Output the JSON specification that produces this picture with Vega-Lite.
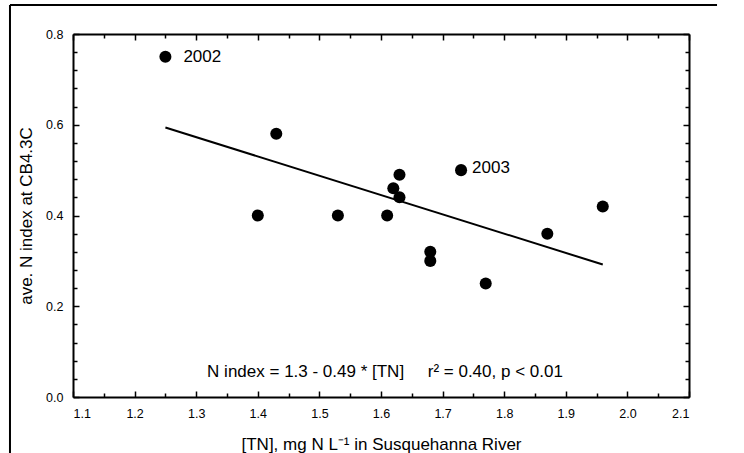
{
  "$schema": "https://vega.github.io/schema/vega-lite/v6.json",
  "width": 616,
  "height": 363,
  "autosize": {"type": "none"},
  "padding": {"left": 73, "top": 34, "right": 55, "bottom": 56},
  "background": "white",
  "config": {
    "font": "Liberation Sans",
    "view": {"stroke": null},
    "axis": {
      "grid": false,
      "domainColor": "black",
      "tickColor": "black",
      "labelColor": "black",
      "titleColor": "black",
      "labelFont": "Liberation Sans",
      "titleFont": "Liberation Sans",
      "labelFontSize": 12.5,
      "titleFontSize": 17,
      "titleFontWeight": "normal",
      "domainWidth": 2,
      "tickWidth": 1.5
    }
  },
  "datasets": {
    "points": [
      {"tn": 1.25, "nindex": 0.75, "year": "2002"},
      {"tn": 1.43, "nindex": 0.58, "year": ""},
      {"tn": 1.40, "nindex": 0.40, "year": ""},
      {"tn": 1.53, "nindex": 0.40, "year": ""},
      {"tn": 1.61, "nindex": 0.40, "year": ""},
      {"tn": 1.62, "nindex": 0.46, "year": ""},
      {"tn": 1.63, "nindex": 0.49, "year": ""},
      {"tn": 1.63, "nindex": 0.44, "year": ""},
      {"tn": 1.73, "nindex": 0.50, "year": "2003"},
      {"tn": 1.68, "nindex": 0.32, "year": ""},
      {"tn": 1.68, "nindex": 0.30, "year": ""},
      {"tn": 1.77, "nindex": 0.25, "year": ""},
      {"tn": 1.87, "nindex": 0.36, "year": ""},
      {"tn": 1.96, "nindex": 0.42, "year": ""}
    ],
    "fit": [
      {"tn": 1.25, "nindex": 0.594},
      {"tn": 1.96, "nindex": 0.292}
    ],
    "equation": [
      {"tn": 1.6065, "nindex": 0.044, "label": "N index = 1.3 - 0.49 * [TN]\u00a0\u00a0\u00a0\u00a0\u00a0r\u00b2 = 0.40, p < 0.01"}
    ],
    "frame": [
      {"x1": 0.9977, "y1": -0.13, "x2": 0.9977, "y2": 0.864},
      {"x1": 0.9977, "y1": 0.864, "x2": 2.1455, "y2": 0.864}
    ]
  },
  "layer": [
    {
      "data": {"name": "points"},
      "mark": {"type": "circle", "size": 145, "color": "black", "opacity": 1},
      "encoding": {
        "x": {
          "field": "tn", "type": "quantitative",
          "scale": {"domain": [1.1, 2.1], "nice": false, "zero": false},
          "axis": {
            "orient": "bottom",
            "values": [1.1, 1.2, 1.3, 1.4, 1.5, 1.6, 1.7, 1.8, 1.9, 2.0, 2.1],
            "format": ".1f",
            "tickSize": -6,
            "labelPadding": 16,
            "title": "[TN], mg N L\u207b\u00b9  in Susquehanna River",
            "titlePadding": 17
          }
        },
        "y": {
          "field": "nindex", "type": "quantitative",
          "scale": {"domain": [0, 0.8], "nice": false, "zero": false},
          "axis": {
            "orient": "left",
            "values": [0, 0.2, 0.4, 0.6, 0.8],
            "format": ".1f",
            "tickSize": -6,
            "labelPadding": 16,
            "title": "ave. N index at CB4.3C",
            "titlePadding": 10
          }
        }
      }
    },
    {
      "data": {"name": "fit"},
      "mark": {"type": "line", "color": "black", "strokeWidth": 2},
      "encoding": {
        "x": {
          "field": "tn", "type": "quantitative",
          "scale": {"domain": [1.1, 2.1], "nice": false, "zero": false},
          "axis": {
            "orient": "bottom",
            "values": [1.15, 1.25, 1.35, 1.45, 1.55, 1.65, 1.75, 1.85, 1.95, 2.05],
            "labels": false, "domain": false, "tickSize": -4, "title": null
          }
        },
        "y": {
          "field": "nindex", "type": "quantitative",
          "scale": {"domain": [0, 0.8], "nice": false, "zero": false},
          "axis": {
            "orient": "left",
            "values": [0.04, 0.08, 0.12, 0.16, 0.24, 0.28, 0.32, 0.36, 0.44, 0.48, 0.52, 0.56, 0.64, 0.68, 0.72, 0.76],
            "labels": false, "domain": false, "tickSize": -4, "title": null
          }
        }
      }
    },
    {
      "data": {"name": "points"},
      "transform": [{"filter": "datum.year == '2002'"}],
      "mark": {"type": "text", "align": "left", "baseline": "middle", "dx": 18, "fontSize": 17, "color": "black"},
      "encoding": {
        "x": {
          "field": "tn", "type": "quantitative",
          "scale": {"domain": [1.1, 2.1], "nice": false, "zero": false},
          "axis": {
            "orient": "top",
            "values": [1.1, 1.2, 1.3, 1.4, 1.5, 1.6, 1.7, 1.8, 1.9, 2.0, 2.1],
            "labels": false, "tickSize": -6, "title": null
          }
        },
        "y": {
          "field": "nindex", "type": "quantitative",
          "scale": {"domain": [0, 0.8], "nice": false, "zero": false},
          "axis": {
            "orient": "right",
            "values": [0, 0.2, 0.4, 0.6, 0.8],
            "labels": false, "tickSize": -6, "title": null
          }
        },
        "text": {"field": "year"}
      }
    },
    {
      "data": {"name": "points"},
      "transform": [{"filter": "datum.year == '2003'"}],
      "mark": {"type": "text", "align": "left", "baseline": "middle", "dx": 11, "dy": -2, "fontSize": 17, "color": "black"},
      "encoding": {
        "x": {
          "field": "tn", "type": "quantitative",
          "scale": {"domain": [1.1, 2.1], "nice": false, "zero": false},
          "axis": {
            "orient": "top",
            "values": [1.15, 1.25, 1.35, 1.45, 1.55, 1.65, 1.75, 1.85, 1.95, 2.05],
            "labels": false, "domain": false, "tickSize": -4, "title": null
          }
        },
        "y": {
          "field": "nindex", "type": "quantitative",
          "scale": {"domain": [0, 0.8], "nice": false, "zero": false},
          "axis": {
            "orient": "right",
            "values": [0.04, 0.08, 0.12, 0.16, 0.24, 0.28, 0.32, 0.36, 0.44, 0.48, 0.52, 0.56, 0.64, 0.68, 0.72, 0.76],
            "labels": false, "domain": false, "tickSize": -4, "title": null
          }
        },
        "text": {"field": "year"}
      }
    },
    {
      "data": {"name": "equation"},
      "mark": {"type": "text", "align": "center", "baseline": "alphabetic", "fontSize": 17, "color": "black"},
      "encoding": {
        "x": {"field": "tn", "type": "quantitative", "scale": {"domain": [1.1, 2.1], "nice": false, "zero": false}, "axis": null},
        "y": {"field": "nindex", "type": "quantitative", "scale": {"domain": [0, 0.8], "nice": false, "zero": false}, "axis": null},
        "text": {"field": "label"}
      }
    },
    {
      "data": {"name": "frame"},
      "mark": {"type": "rule", "color": "black", "strokeWidth": 2},
      "encoding": {
        "x": {"field": "x1", "type": "quantitative", "scale": {"domain": [1.1, 2.1], "nice": false, "zero": false}, "axis": null},
        "x2": {"field": "x2"},
        "y": {"field": "y1", "type": "quantitative", "scale": {"domain": [0, 0.8], "nice": false, "zero": false}, "axis": null},
        "y2": {"field": "y2"}
      }
    }
  ],
  "resolve": {"axis": {"x": "independent", "y": "independent"}}
}
